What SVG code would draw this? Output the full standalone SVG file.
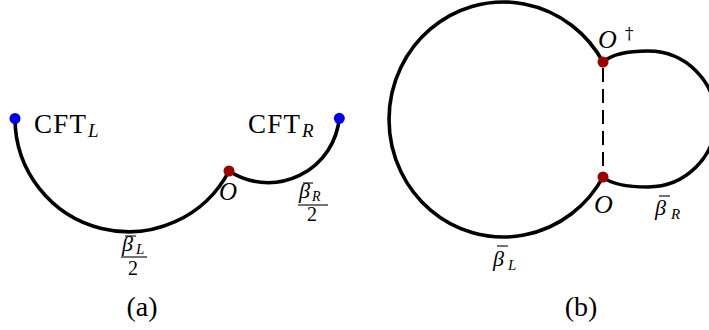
<svg xmlns="http://www.w3.org/2000/svg" width="709" height="330" viewBox="0 0 709 330">
<style>
.curve{fill:none;stroke:#000;stroke-width:3.6;stroke-linecap:round}
.dash{fill:none;stroke:#000;stroke-width:2;stroke-dasharray:14 7}
.bar{stroke:#000;stroke-width:1.1}
.blue{fill:#0000e6}
.red{fill:#990000}
text{font-family:"Liberation Serif","DejaVu Serif",serif;fill:#000}
.rm{font-size:27px}
.it{font-style:italic}
.lbl{font-size:28px;text-anchor:middle}
</style>
<rect width="709" height="330" fill="#fff"/>
<g id="connectors">
  <path id="arc-a-left" class="curve" d="M15,118.5 A113.5,113.5 0 0 0 229,171"/>
  <path id="arc-a-right" class="curve" d="M229,171 A71.5,71.5 0 0 0 339.3,118.3"/>
  <path id="arc-b-left" class="curve" d="M603,62 A114.3,117.5 0 1 0 603,177"/>
  <path id="arc-b-right" class="curve" d="M603,62 C611,55 625,51 648,51 A68,68 0 0 1 648,187 C625,187 611,184 603,177"/>
  <line id="dashed-b" class="dash" x1="603" y1="68" x2="603" y2="172"/>
</g>
<g id="node-cftL">
  <circle class="blue" cx="15" cy="118.5" r="5.5"/>
  <text class="rm" x="34" y="133" letter-spacing="1.3">CFT</text>
  <text class="it" x="88" y="137" font-size="19">L</text>
</g>
<g id="node-cftR">
  <circle class="blue" cx="339.3" cy="118.3" r="5.5"/>
  <text class="rm" x="248" y="133" letter-spacing="1.3">CFT</text>
  <text class="it" x="302" y="137" font-size="19">R</text>
</g>
<g id="node-O-a">
  <circle class="red" cx="229" cy="171" r="5.5"/>
  <text class="it" x="219" y="200" font-size="25">O</text>
</g>
<g id="label-betaL-half">
  <line class="bar" x1="125" y1="236" x2="136" y2="236"/>
  <text class="it" x="122" y="251" font-size="22">β</text>
  <text class="it" x="136" y="254" font-size="15">L</text>
  <line class="bar" x1="121" y1="257" x2="147" y2="257"/>
  <text x="128" y="275" font-size="20">2</text>
</g>
<g id="label-betaR-half">
  <line class="bar" x1="303" y1="183" x2="313" y2="183"/>
  <text class="it" x="299" y="198" font-size="22">β</text>
  <text class="it" x="312" y="200.5" font-size="14">R</text>
  <line class="bar" x1="298" y1="205" x2="328" y2="205"/>
  <text x="307" y="221" font-size="20">2</text>
</g>
<g id="node-Odagger">
  <circle class="red" cx="603" cy="62" r="5.5"/>
  <text class="it" x="598" y="48" font-size="26">O</text>
  <text x="625" y="39" font-size="17" style="font-family:'DejaVu Serif',serif;fill:#000">†</text>
</g>
<g id="node-O-b">
  <circle class="red" cx="603" cy="177" r="5.5"/>
  <text class="it" x="594" y="213" font-size="26">O</text>
</g>
<g id="label-betaR">
  <line class="bar" x1="659" y1="196" x2="670" y2="196"/>
  <text class="it" x="655" y="215" font-size="22">β</text>
  <text class="it" x="671" y="219" font-size="15">R</text>
</g>
<g id="label-betaL">
  <line class="bar" x1="497" y1="246" x2="508" y2="246"/>
  <text class="it" x="493" y="266" font-size="22">β</text>
  <text class="it" x="508" y="270" font-size="15">L</text>
</g>
<text class="lbl" x="142" y="316">(a)</text>
<text class="lbl" x="581" y="316">(b)</text>
</svg>
